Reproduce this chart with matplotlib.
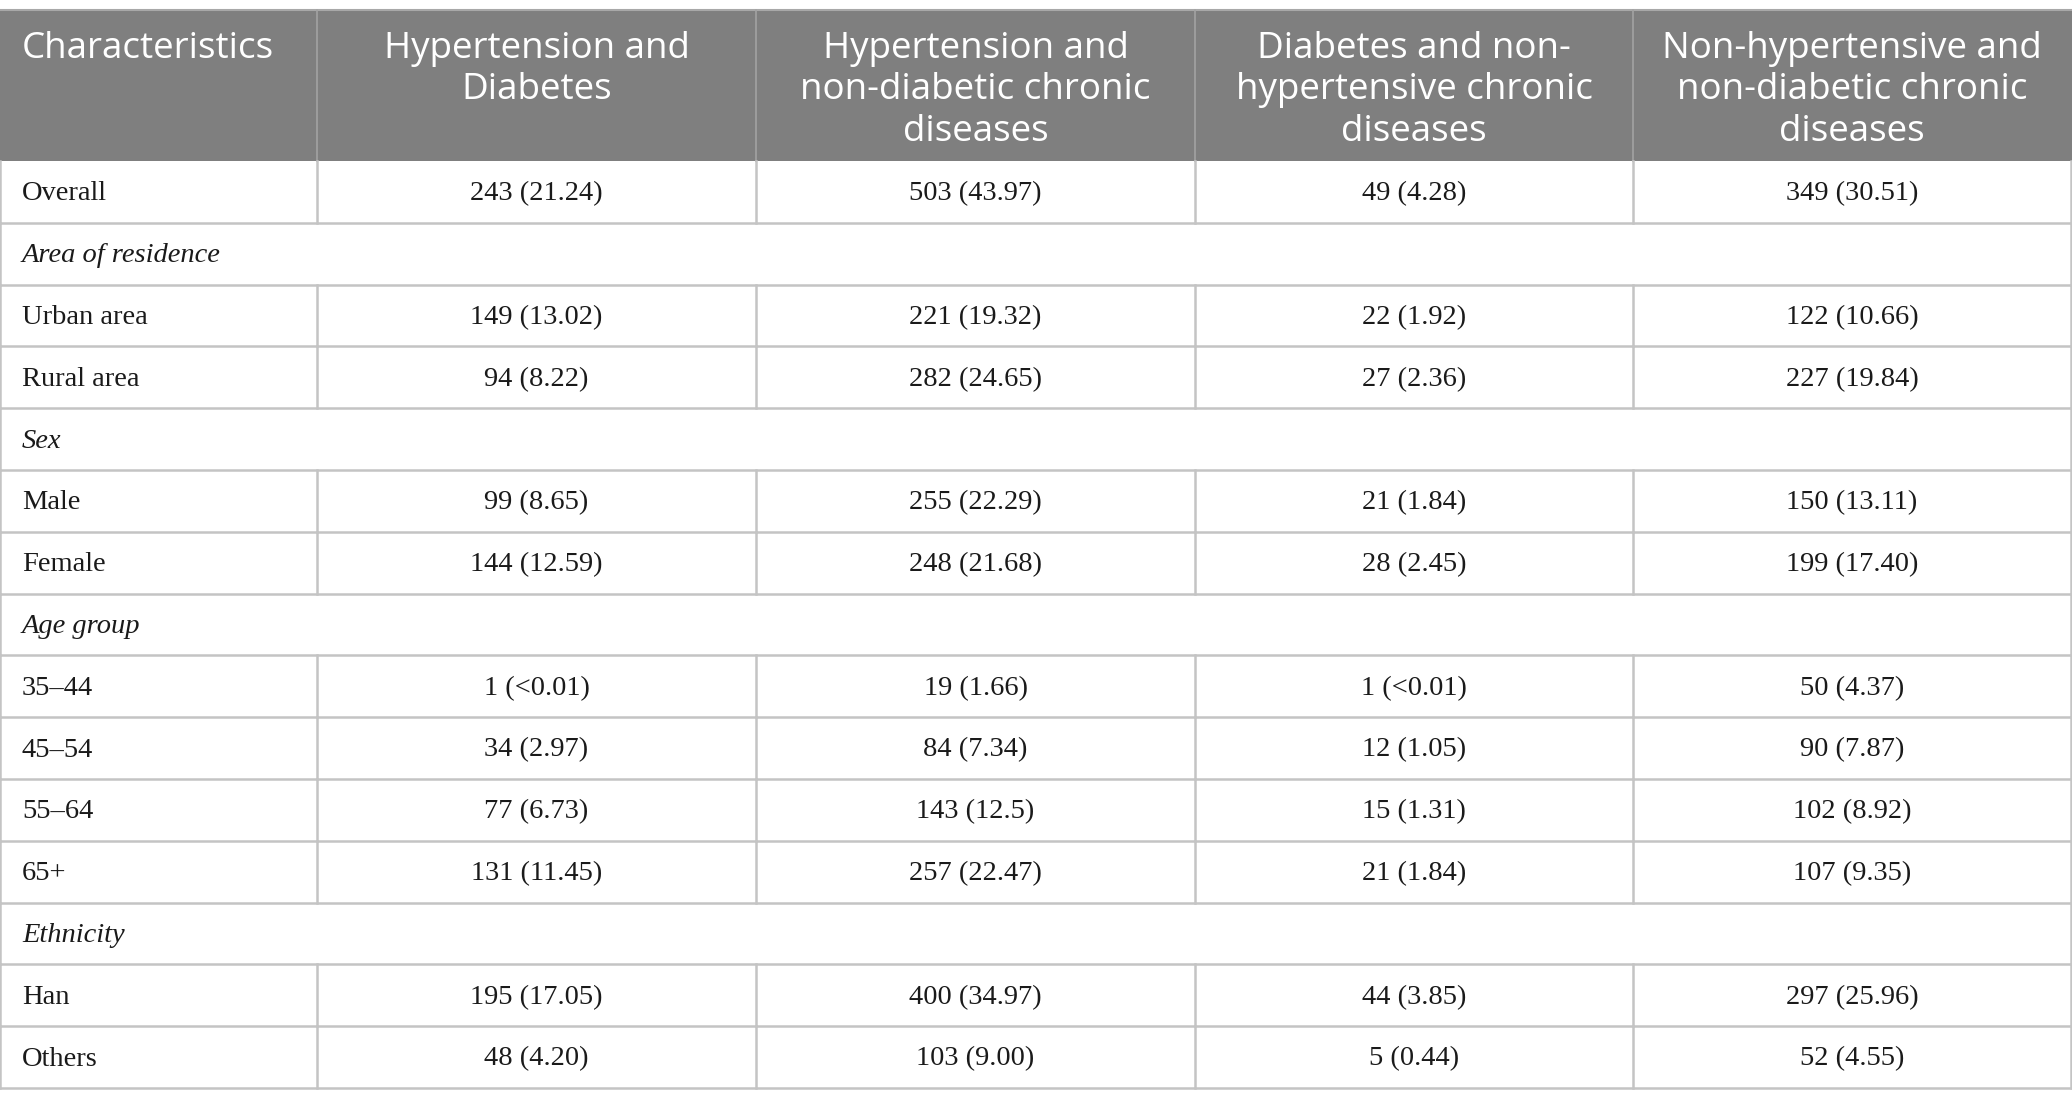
import matplotlib
matplotlib.use("Agg")
import matplotlib.pyplot as plt
from matplotlib.patches import Rectangle

# ---- data ----
col_headers = [
    "Characteristics",
    "Hypertension and\nDiabetes",
    "Hypertension and\nnon-diabetic chronic\ndiseases",
    "Diabetes and non-\nhypertensive chronic\ndiseases",
    "Non-hypertensive and\nnon-diabetic chronic\ndiseases",
]
row_labels = ["Overall", "Area of residence", "Urban area", "Rural area", "Sex",
              "Male", "Female", "Age group", "35\u201344", "45\u201354", "55\u201364",
              "65+", "Ethnicity", "Han", "Others"]
section_rows = ["Area of residence", "Sex", "Age group", "Ethnicity"]

hyp_diab = ["243 (21.24)", "", "149 (13.02)", "94 (8.22)", "", "99 (8.65)",
            "144 (12.59)", "", "1 (<0.01)", "34 (2.97)", "77 (6.73)",
            "131 (11.45)", "", "195 (17.05)", "48 (4.20)"]
hyp_nondiab = ["503 (43.97)", "", "221 (19.32)", "282 (24.65)", "", "255 (22.29)",
               "248 (21.68)", "", "19 (1.66)", "84 (7.34)", "143 (12.5)",
               "257 (22.47)", "", "400 (34.97)", "103 (9.00)"]
diab_nonhyp = ["49 (4.28)", "", "22 (1.92)", "27 (2.36)", "", "21 (1.84)",
               "28 (2.45)", "", "1 (<0.01)", "12 (1.05)", "15 (1.31)",
               "21 (1.84)", "", "44 (3.85)", "5 (0.44)"]
neither = ["349 (30.51)", "", "122 (10.66)", "227 (19.84)", "", "150 (13.11)",
           "199 (17.40)", "", "50 (4.37)", "90 (7.87)", "102 (8.92)",
           "107 (9.35)", "", "297 (25.96)", "52 (4.55)"]
value_cols = [hyp_diab, hyp_nondiab, diab_nonhyp, neither]

# ---- layout (pixels) ----
W, H = 2072, 1096
col_edges = [0, 317, 756, 1195, 1633, 2071]
head_top, head_bot = 10, 161
row_h = (1088 - head_bot) / len(row_labels)

header_bg = "#7f7f7f"
line_col = "#c4c4c4"
text_col = "#1a1a1a"
body_fs = 20.5

fig = plt.figure(figsize=(W / 100, H / 100), dpi=100)
ax = fig.add_axes([0, 0, 1, 1])
ax.set_xlim(0, W)
ax.set_ylim(H, 0)
ax.axis("off")

# header
ax.add_patch(Rectangle((0, head_top), W, head_bot - head_top, color=header_bg, lw=0))
ax.plot([0, W], [head_top, head_top], color="#a8a8a8", lw=1.5)
for x in col_edges[1:-1]:
    ax.plot([x, x], [head_top, head_bot], color="#a3a3a3", lw=1.2)

for i, h in enumerate(col_headers):
    if i == 0:
        ax.text(22, 31, h, ha="left", va="top", color="white", fontsize=26.5,
                family="Open Sans", linespacing=1.2)
    else:
        cx = (col_edges[i] + col_edges[i + 1]) / 2
        ax.text(cx, 31, h, ha="center", va="top", color="white", fontsize=26.5,
                family="Open Sans", linespacing=1.2, multialignment="center")

# body
for r, lab in enumerate(row_labels):
    y0 = head_bot + r * row_h
    y1 = y0 + row_h
    yc = (y0 + y1) / 2 + 2
    ax.plot([0, W], [y1, y1], color=line_col, lw=1.8)
    if lab in section_rows:
        ax.text(22, yc, lab, ha="left", va="center", fontsize=body_fs,
                family="Liberation Serif", style="italic", color=text_col)
        ax.plot([0, 0], [y0, y1], color=line_col, lw=1.8)
        ax.plot([col_edges[-1], col_edges[-1]], [y0, y1], color=line_col, lw=1.8)
        continue
    for x in col_edges:
        ax.plot([x, x], [y0, y1], color=line_col, lw=1.8)
    ax.text(22, yc, lab, ha="left", va="center", fontsize=body_fs,
            family="Liberation Serif", color=text_col)
    for c, vals in enumerate(value_cols):
        cx = (col_edges[c + 1] + col_edges[c + 2]) / 2
        ax.text(cx, yc, vals[r], ha="center", va="center", fontsize=body_fs,
                family="Liberation Serif", color=text_col)

fig.savefig("out.png", dpi=100, facecolor="white")
